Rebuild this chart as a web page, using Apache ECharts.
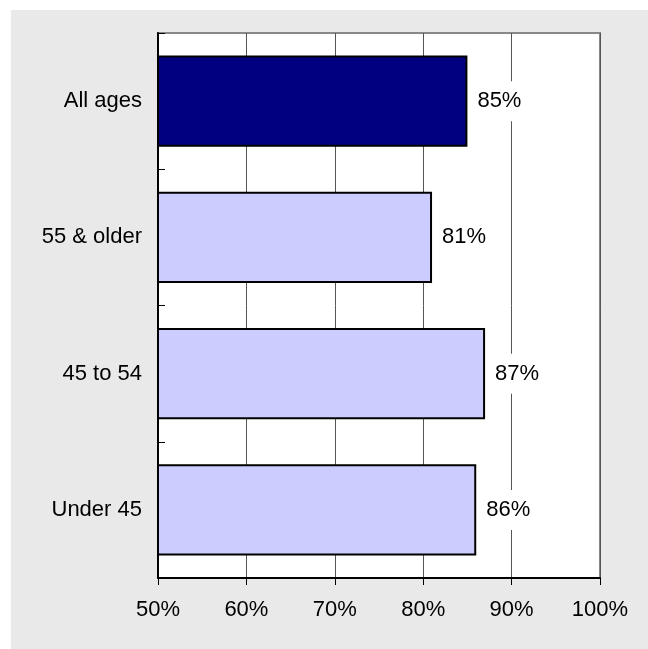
<!DOCTYPE html>
<html>
<head>
<meta charset="utf-8">
<style>
  html, body { margin: 0; padding: 0; background: #ffffff; }
  #chart { width: 648px; height: 649px; }
</style>
<script src="https://cdn.jsdelivr.net/npm/echarts@6/dist/echarts.min.js"></script>
</head>
<body>
<div id="chart"></div>
<script>
// Share of respondents by age group
const categories = ['All ages', '55 & older', '45 to 54', 'Under 45'];
const shares = [85, 81, 87, 86];
const barColors = ['#000080', '#ccccff', '#ccccff', '#ccccff'];
const xTicks = [50, 60, 70, 80, 90, 100];

const font = '"Liberation Sans", Arial, sans-serif';

const chart = echarts.init(document.getElementById('chart'), null, { renderer: 'canvas' });

chart.setOption({
  backgroundColor: '#ffffff',
  animation: false,
  graphic: [{
    type: 'rect',
    z: -10,
    silent: true,
    shape: { x: 11, y: 10, width: 648, height: 649 },
    style: { fill: '#e9e9e9' }
  }],
  grid: {
    left: 158, right: 48, top: 33, bottom: 71,
    show: true,
    backgroundColor: '#ffffff',
    borderColor: '#888888',
    borderWidth: 2
  },
  xAxis: {
    type: 'value',
    min: xTicks[0],
    max: xTicks[xTicks.length - 1],
    interval: 10,
    axisLine: { show: true, lineStyle: { color: '#000000', width: 2 } },
    axisTick: { show: true, length: 7, lineStyle: { color: '#000000', width: 1 } },
    axisLabel: {
      formatter: '{value}%',
      color: '#000000',
      fontSize: 22,
      fontFamily: font,
      margin: 21
    },
    splitLine: { show: true, lineStyle: { color: '#555555', width: 1 } }
  },
  yAxis: {
    type: 'category',
    data: categories,
    inverse: true,
    axisLine: { show: true, lineStyle: { color: '#000000', width: 2 } },
    axisTick: { show: true, inside: true, length: 7, lineStyle: { color: '#000000', width: 1 } },
    axisLabel: {
      color: '#000000',
      fontSize: 22,
      fontFamily: font,
      margin: 16
    },
    splitLine: { show: false }
  },
  series: [{
    type: 'bar',
    data: shares.map((v, i) => ({ value: v, itemStyle: { color: barColors[i] } })),
    barCategoryGap: '33%',
    itemStyle: { borderColor: '#000000', borderWidth: 2 },
    label: {
      show: true,
      position: 'right',
      distance: 8,
      formatter: p => p.value + '%',
      color: '#000000',
      fontSize: 22,
      fontFamily: font,
      backgroundColor: '#ffffff',
      padding: [10, 2, 8, 2]
    }
  }]
});
</script>
</body>
</html>
